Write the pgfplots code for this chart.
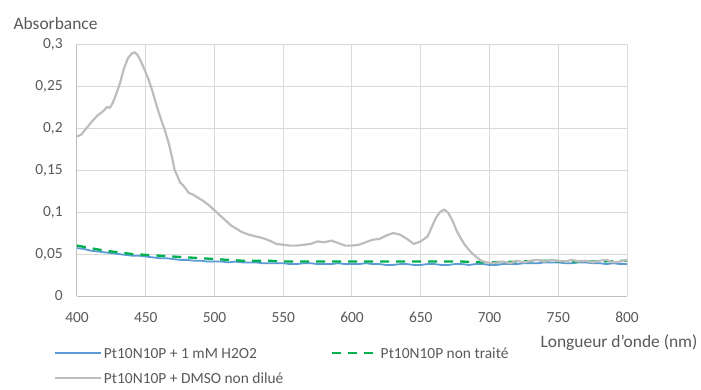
\documentclass[border=0pt]{standalone}
\usepackage{fontspec}
\setmainfont{Carlito}
\usepackage{pgfplots}
\pgfplotsset{compat=1.18}
\definecolor{txt}{HTML}{595959}
\definecolor{gridc}{HTML}{D9D9D9}
\definecolor{axc}{HTML}{BFBFBF}
\definecolor{cblue}{HTML}{5B9BD5}
\definecolor{cgreen}{HTML}{00B050}
\definecolor{cgrey}{HTML}{BDBDBD}
\begin{document}
\fontsize{15.5}{18.6}\selectfont
\begin{tikzpicture}[font=\fontsize{15.5}{18.6}\selectfont]
\begin{axis}[
  scale only axis, width=550bp, height=252bp,
  xmin=400, xmax=800, ymin=0, ymax=0.3,
  xtick={400,450,...,800}, ytick={0,0.05,0.1,0.15,0.2,0.25,0.3},
  scaled y ticks=false,
  major tick length=0pt,
  axis x line*=bottom, axis y line*=left,
  axis line style={axc, line width=1bp, -},
  grid=major, major grid style={gridc, line width=1bp},
  tick label style={txt},
  /pgf/number format/assume math mode=true,
  yticklabel style={/pgf/number format/fixed, /pgf/number format/use comma, /pgf/number format/precision=2, xshift=-9bp},
  xticklabel style={yshift=-11bp},
  ylabel={Absorbance},
  ylabel style={rotate=-90, at={(axis description cs:-0.039,1.083)}, anchor=center, txt, font=\fontsize{17.5}{21}\selectfont},
  xlabel={Longueur d’onde (nm)},
  xlabel style={at={(axis description cs:0.9855,-0.1865)}, anchor=center, txt, font=\fontsize{17.5}{21}\selectfont},
  legend columns=2,
  legend cell align=left,
  legend image code/.code={\draw[#1] (0bp,0bp) -- (46bp,0bp);},
  legend style={at={(axis description cs:-0.0418,-0.1990)}, anchor=north west, draw=none, fill=none,
    inner xsep=0pt, inner ysep=0pt, row sep=11bp, text=txt,
    nodes={inner sep=1.5pt, text depth=0pt},
    /tikz/every even column/.append style={column sep=46bp}},
]
\addplot[cblue, line width=1.8bp, line join=round] coordinates {
(400,0.057)(405,0.056)(410,0.054)(415,0.053)(420,0.052)(425,0.051)(430,0.050)(435,0.049)(440,0.048)(445,0.048)(450,0.047)(455,0.046)(460,0.045)(465,0.045)(470,0.044)(475,0.043)(480,0.043)(485,0.042)(490,0.042)(495,0.041)(500,0.041)(505,0.041)(510,0.040)(515,0.041)(520,0.040)(525,0.040)(530,0.040)(535,0.039)(540,0.039)(545,0.039)(550,0.039)(555,0.038)(560,0.038)(565,0.039)(570,0.039)(575,0.038)(580,0.038)(585,0.038)(590,0.039)(595,0.038)(600,0.038)(605,0.038)(610,0.039)(615,0.038)(620,0.038)(625,0.037)(630,0.037)(635,0.038)(640,0.038)(645,0.037)(650,0.037)(655,0.038)(660,0.038)(665,0.037)(670,0.037)(675,0.038)(680,0.038)(685,0.037)(690,0.038)(695,0.038)(700,0.037)(705,0.037)(710,0.038)(715,0.038)(720,0.038)(725,0.039)(730,0.039)(735,0.039)(740,0.040)(745,0.040)(750,0.040)(755,0.039)(760,0.039)(765,0.040)(770,0.040)(775,0.039)(780,0.039)(785,0.038)(790,0.039)(795,0.038)(800,0.038)
};
\addlegendentry{Pt10N10P + 1 mM H2O2}
\addplot[cgreen, line width=2.3bp, dash pattern=on 9bp off 7bp] coordinates {
(400,0.060)(410,0.057)(420,0.054)(430,0.052)(440,0.050)(450,0.049)(460,0.048)(470,0.047)(480,0.046)(490,0.045)(500,0.044)(510,0.043)(520,0.042)(530,0.042)(540,0.042)(550,0.041)(560,0.041)(570,0.041)(580,0.041)(590,0.041)(600,0.041)(620,0.041)(640,0.041)(660,0.041)(680,0.041)(700,0.040)(720,0.041)(740,0.042)(760,0.041)(780,0.041)(800,0.042)
};
\addlegendentry{Pt10N10P non traité}
\addplot[cgrey, line width=2.2bp, line join=round] coordinates {
(400,0.190)(403,0.192)(407,0.200)(411,0.208)(415,0.215)(419,0.220)(422,0.225)(424,0.224)(426,0.230)(428,0.238)(431,0.252)(434,0.270)(437,0.283)(440,0.289)(442,0.290)(444,0.287)(446,0.281)(449,0.270)(452,0.258)(455,0.243)(458,0.226)(461,0.211)(464,0.197)(467,0.180)(469,0.166)(471,0.150)(473,0.143)(475,0.135)(477,0.132)(479,0.128)(481,0.123)(484,0.121)(488,0.117)(492,0.113)(496,0.108)(500,0.102)(504,0.096)(508,0.090)(512,0.084)(516,0.080)(520,0.076)(525,0.073)(530,0.071)(535,0.069)(540,0.066)(545,0.062)(550,0.061)(555,0.060)(560,0.060)(565,0.061)(570,0.062)(575,0.065)(580,0.064)(585,0.066)(590,0.063)(595,0.060)(600,0.060)(605,0.061)(610,0.064)(615,0.067)(620,0.068)(625,0.072)(630,0.075)(635,0.073)(640,0.068)(645,0.062)(650,0.065)(655,0.071)(658,0.082)(661,0.093)(664,0.100)(667,0.103)(670,0.099)(673,0.090)(676,0.078)(679,0.069)(682,0.061)(686,0.053)(690,0.047)(694,0.042)(698,0.040)(702,0.039)(706,0.040)(710,0.041)(715,0.039)(720,0.042)(725,0.040)(730,0.042)(735,0.043)(740,0.041)(745,0.043)(750,0.042)(755,0.041)(760,0.043)(765,0.041)(770,0.042)(775,0.040)(780,0.042)(785,0.043)(790,0.040)(795,0.041)(800,0.043)
};
\addlegendentry{Pt10N10P + DMSO non dilué}
\end{axis}
\pgfresetboundingbox
\path[use as bounding box] (-77bp,-94bp) rectangle (624bp,296bp);
\end{tikzpicture}
\end{document}
